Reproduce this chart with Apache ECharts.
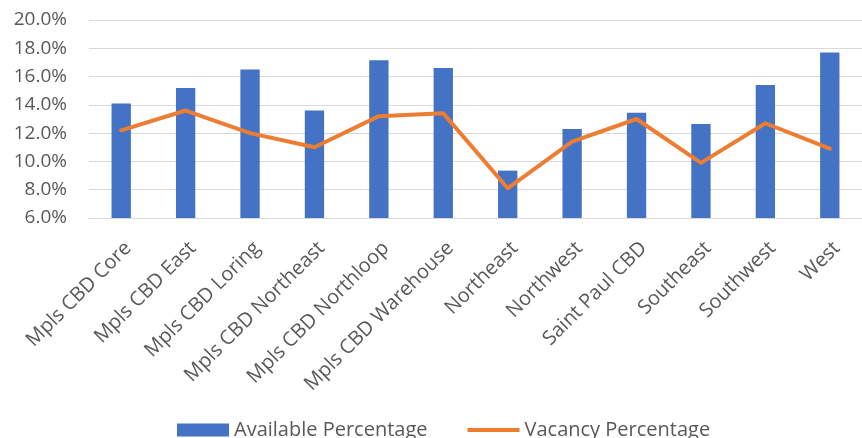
<!DOCTYPE html>
<html>
<head>
<meta charset="utf-8">
<script src="https://cdn.jsdelivr.net/npm/echarts@6/dist/echarts.min.js"></script>
<style>
html,body{margin:0;padding:0;background:#fff;overflow:hidden;}
#chart{width:862px;height:438px;}
</style>
</head>
<body>
<div id="chart"></div>
<script>
const categories = ["Mpls CBD Core","Mpls CBD East","Mpls CBD Loring","Mpls CBD Northeast","Mpls CBD Northloop","Mpls CBD Warehouse","Northeast","Northwest","Saint Paul CBD","Southeast","Southwest","West"];
const availablePct = [14.1, 15.2, 16.5, 13.6, 17.15, 16.6, 9.35, 12.3, 13.45, 12.65, 15.4, 17.7];
const vacancyPct = [12.2, 13.6, 12.0, 11.0, 13.2, 13.4, 8.1, 11.4, 13.0, 9.9, 12.7, 10.9];
const yTicks = [6, 8, 10, 12, 14, 16, 18, 20];

const FONT = "Open Sans";
const TXT = "#595959";
const chart = echarts.init(document.getElementById('chart'), null, {renderer:'canvas'});
chart.setOption({
  animation:false,
  textStyle:{fontFamily:FONT},
  grid:{left:89, right:-16, top:20, bottom:220, containLabel:false},
  legend:{
    top:415, left:172,
    itemWidth:52, itemHeight:13, itemGap:40,
    textStyle:{fontSize:20, color:TXT, fontFamily:FONT},
    data:[{name:'Available Percentage', icon:'rect'},
          {name:'Vacancy Percentage', icon:'path://M0,0 L52,0 L52,4 L0,4 Z'}]
  },
  xAxis:{
    type:'category', data:categories,
    axisLine:{lineStyle:{color:'#d9d9d9'}},
    axisTick:{show:false},
    axisLabel:{rotate:45, interval:0, color:TXT, fontSize:20, fontFamily:FONT, margin:20,
      verticalAlign:'top', align:'right'}
  },
  yAxis:{
    type:'value', min:yTicks[0], max:yTicks[yTicks.length-1], interval:2,
    axisLine:{show:false}, axisTick:{show:false},
    splitLine:{lineStyle:{color:'#d9d9d9', width:1}},
    axisLabel:{color:TXT, fontSize:19, fontFamily:FONT, margin:22,
      formatter:v=>v.toFixed(1)+'%'}
  },
  series:[
    {name:'Available Percentage', type:'bar', data:availablePct, barWidth:'30%',
     itemStyle:{color:'#4472C4'}},
    {name:'Vacancy Percentage', type:'line', data:vacancyPct, symbol:'none',
     lineStyle:{color:'#ED7D31', width:4, join:'round', cap:'round'},
     itemStyle:{color:'#ED7D31'}}
  ]
});
</script>
</body>
</html>
